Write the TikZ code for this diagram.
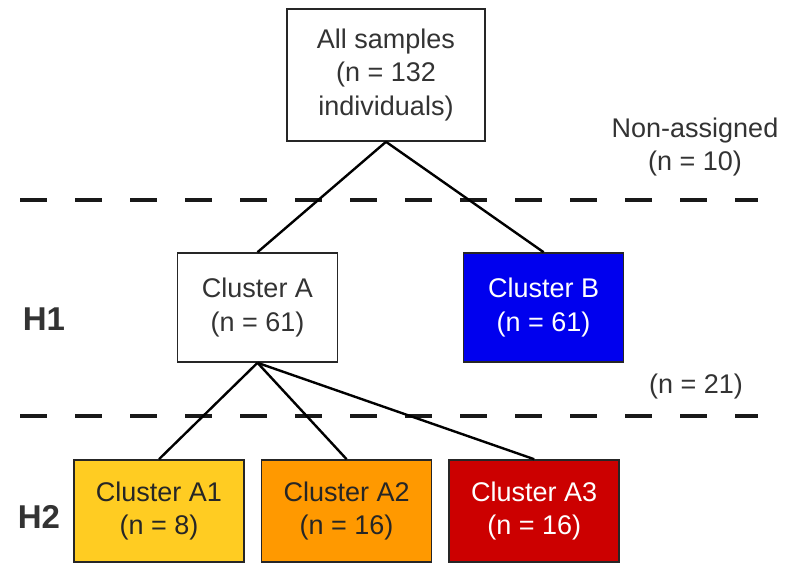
\documentclass[tikz,border=0pt]{standalone}
\usepackage{fontspec}
\setmainfont{Liberation Sans}
\usetikzlibrary{positioning}

\definecolor{textgray}{HTML}{333333}
\definecolor{clusterblue}{RGB}{0,0,238}
\definecolor{clusteryellow}{RGB}{255,204,34}
\definecolor{clusterorange}{RGB}{255,153,0}
\definecolor{clusterred}{RGB}{204,0,0}

\begin{document}
\begin{tikzpicture}[
        x=1pt, y=1pt,
        font=\fontsize{13.5}{16.6}\selectfont,
        text=textgray,
        clusterbox/.style={draw=black!85, line width=0.8pt, align=center, inner sep=0pt},
        rootbox/.style={clusterbox, minimum width=99pt, minimum height=66pt},
        levelone/.style={clusterbox, minimum width=80pt, minimum height=54.5pt},
        leveltwo/.style={clusterbox, minimum width=85pt, minimum height=51pt},
        heightlabel/.style={font=\fontsize{16.5}{18}\selectfont\bfseries},
        note/.style={align=center},
        splitline/.style={draw=black!90, line width=1.6pt, dash pattern=on 13.5pt off 14pt},
        link/.style={draw=black, line width=1.2pt}
    ]
        \useasboundingbox (0,0) rectangle (400,-282);

        \draw[splitline] (10,-100) -- (379,-100);
        \draw[splitline] (10,-208) -- (379,-208);

        \node[rootbox] (allsamples) at (193,-37.5) {All samples\\(n = 132\\individuals)};
        \node[levelone] (clusterA) at (128.75,-153.75) {Cluster A\\(n = 61)};
        \node[levelone, fill=clusterblue, text=white, right=62.25pt of clusterA] (clusterB) {Cluster B\\(n = 61)};
        \node[leveltwo, fill=clusteryellow, text=black!85] (clusterAone) at (79.5,-255.5) {Cluster A1\\(n = 8)};
        \node[leveltwo, fill=clusterorange, text=black!85, right=8pt of clusterAone] (clusterAtwo) {Cluster A2\\(n = 16)};
        \node[leveltwo, fill=clusterred, text=white, right=8pt of clusterAtwo] (clusterAthree) {Cluster A3\\(n = 16)};

        \node[heightlabel] (hone) at (22,-159.5) {H1};
        \node[heightlabel] (htwo) at (19.5,-258.5) {H2};
        \node[note] (nonassigned) at (347.5,-73.5) {Non-assigned\\(n = 10)};
        \node[note] (unassignedA) at (348,-193.5) {(n = 21)};

        \draw[link] (allsamples.south) -- (clusterA.north);
        \draw[link] (allsamples.south) -- (clusterB.north);
        \draw[link] (clusterA.south) -- (clusterAone.north);
        \draw[link] (clusterA.south) -- (clusterAtwo.north);
        \draw[link] (clusterA.south) -- (clusterAthree.north);
    \end{tikzpicture}
\end{document}
